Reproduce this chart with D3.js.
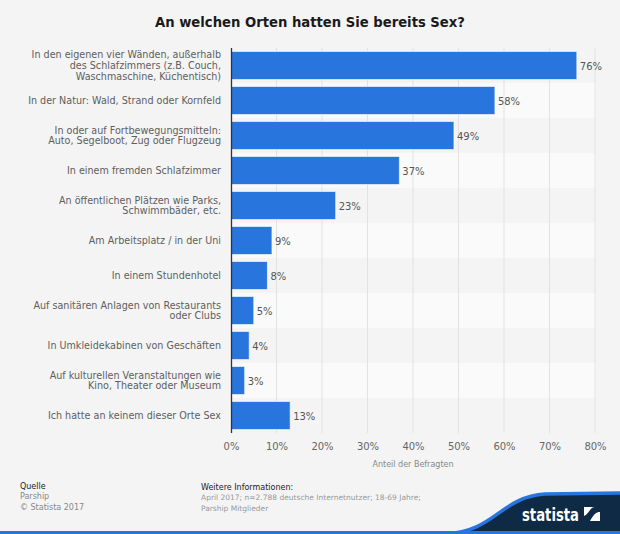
<!DOCTYPE html>
<html><head><meta charset="utf-8">
<script src="https://cdn.jsdelivr.net/npm/d3@7"></script>
<style>
html,body{margin:0;padding:0;background:#f4f4f4;}
svg{display:block;font-family:"DejaVu Sans",sans-serif;}
</style></head>
<body>
<svg id="c" width="620" height="534"></svg>
<script>
const title = "An welchen Orten hatten Sie bereits Sex?";
const categories = [
  ["In den eigenen vier Wänden, außerhalb","des Schlafzimmers (z.B. Couch,","Waschmaschine, Küchentisch)"],
  ["In der Natur: Wald, Strand oder Kornfeld"],
  ["In oder auf Fortbewegungsmitteln:","Auto, Segelboot, Zug oder Flugzeug"],
  ["In einem fremden Schlafzimmer"],
  ["An öffentlichen Plätzen wie Parks,","Schwimmbäder, etc."],
  ["Am Arbeitsplatz / in der Uni"],
  ["In einem Stundenhotel"],
  ["Auf sanitären Anlagen von Restaurants","oder Clubs"],
  ["In Umkleidekabinen von Geschäften"],
  ["Auf kulturellen Veranstaltungen wie","Kino, Theater oder Museum"],
  ["Ich hatte an keinem dieser Orte Sex"]
];
const values = [76, 58, 49, 37, 23, 9, 8, 5, 4, 3, 13];
const xTicks = [0, 10, 20, 30, 40, 50, 60, 70, 80];
const axisTitle = "Anteil der Befragten";
const sourceLines = ["Quelle", "Parship", "© Statista 2017"];
const infoLines = ["Weitere Informationen:", "April 2017; n=2.788 deutsche Internetnutzer; 18-69 Jahre;", "Parship Mitglieder"];

const svg = d3.select("#c");
const W = 620, H = 534;
const m = {left: 231, right: 25, top: 48, bottom: 101};
const x = d3.scaleLinear().domain([0, 80]).range([m.left, W - m.right]);
const idx = d3.range(categories.length);
const y = d3.scaleBand().domain(idx).range([m.top, H - m.bottom]).paddingInner(0).paddingOuter(0);

svg.append("rect").attr("width", W).attr("height", H).attr("fill", "#f4f4f4");

svg.append("text").attr("x", 310).attr("y", 27).attr("text-anchor", "middle")
  .attr("font-size", 13.2).attr("font-weight", "bold").attr("fill", "#1a1a1a").text(title);

// stripes
svg.append("g").selectAll("rect").data(idx).join("rect")
  .attr("x", m.left).attr("width", x(80) - m.left + 1)
  .attr("y", d => y(d)).attr("height", y.bandwidth())
  .attr("fill", d => d % 2 === 0 ? "#f4f4f4" : "#fafafa");

// gridlines
svg.append("g").selectAll("line").data(xTicks.slice(1)).join("line")
  .attr("x1", d => x(d)).attr("x2", d => x(d))
  .attr("y1", m.top).attr("y2", H - m.bottom)
  .attr("stroke", "#e2e2e2").attr("stroke-width", 1);

// bars
const bh = 28;
svg.append("g").selectAll("rect").data(idx).join("rect")
  .attr("x", x(0)).attr("y", d => y(d) + (y.bandwidth() - bh) / 2)
  .attr("width", d => x(values[d]) - x(0)).attr("height", bh)
  .attr("fill", "#2876dd").attr("stroke", "#ffffff").attr("stroke-opacity", 0.6).attr("stroke-width", 1);

// value labels
svg.append("g").selectAll("text").data(idx).join("text")
  .attr("x", d => x(values[d]) + 3).attr("y", d => y(d) + y.bandwidth() / 2 + 4)
  .attr("font-size", 10).attr("fill", "#555").text(d => values[d] + "%");

// y axis line
svg.append("line").attr("x1", m.left + 0.5).attr("x2", m.left + 0.5)
  .attr("y1", m.top).attr("y2", H - m.bottom).attr("stroke", "#333").attr("stroke-width", 1.3);

// category labels
const lh = 10.8;
const cl = svg.append("g");
idx.forEach(i => {
  const lines = categories[i];
  const cy = y(i) + y.bandwidth() / 2;
  const t = cl.append("text").attr("text-anchor", "end").attr("font-size", 9.6).attr("fill", "#5e5e5e");
  lines.forEach((ln, k) => {
    t.append("tspan").attr("x", 221).attr("y", cy + 3.5 + (k - (lines.length - 1) / 2) * lh).text(ln);
  });
});

// x axis
const xa = d3.axisBottom(x).tickValues(xTicks).tickFormat(d => d + "%").tickSize(0).tickPadding(10);
const gx = svg.append("g").attr("transform", `translate(0,${H - m.bottom})`).call(xa);
gx.select(".domain").remove();
gx.selectAll("text").attr("font-size", 10).attr("fill", "#666").attr("font-family", "DejaVu Sans, sans-serif");

svg.append("text").attr("x", x(40)).attr("y", 466.5).attr("text-anchor", "middle")
  .attr("font-size", 8).attr("fill", "#888").text(axisTitle);

// footer
sourceLines.forEach((s, k) => {
  svg.append("text").attr("x", 20).attr("y", 489 + k * 10.3).attr("font-size", 8)
    .attr("fill", k === 0 ? "#222" : "#888").text(s);
});
infoLines.forEach((s, k) => {
  svg.append("text").attr("x", 201).attr("y", 490 + k * 10.3).attr("font-size", k === 0 ? 8 : 7.5)
    .attr("fill", k === 0 ? "#222" : "#999").text(s);
});

// statista wave
const waveLine = "M445,534 C495,532 500,497 545,494 L620,493";
svg.append("path").attr("d", waveLine + " L620,534 Z").attr("fill", "#0f2a44");
svg.append("path").attr("d", waveLine)
  .attr("fill", "none").attr("stroke", "#2876dd").attr("stroke-width", 3.5);
svg.append("rect").attr("x", 0).attr("y", 531).attr("width", W).attr("height", 3).attr("fill", "#2876dd");
svg.append("text").attr("x", 522).attr("y", 521).attr("font-size", 17).attr("font-weight", "bold")
  .attr("textLength", 57).attr("lengthAdjust", "spacingAndGlyphs")
  .attr("fill", "#fff").text("statista");
// logo icon
svg.append("rect").attr("x", 584).attr("y", 507).attr("width", 16).attr("height", 14).attr("fill", "#fff");
svg.append("path").attr("d", "M584,521 L590,521 C594,514 596,512 600,512 L600,507 L595,507 C590,507 589,514 584,516 Z").attr("fill", "#0f2a44");
</script>
</body></html>
